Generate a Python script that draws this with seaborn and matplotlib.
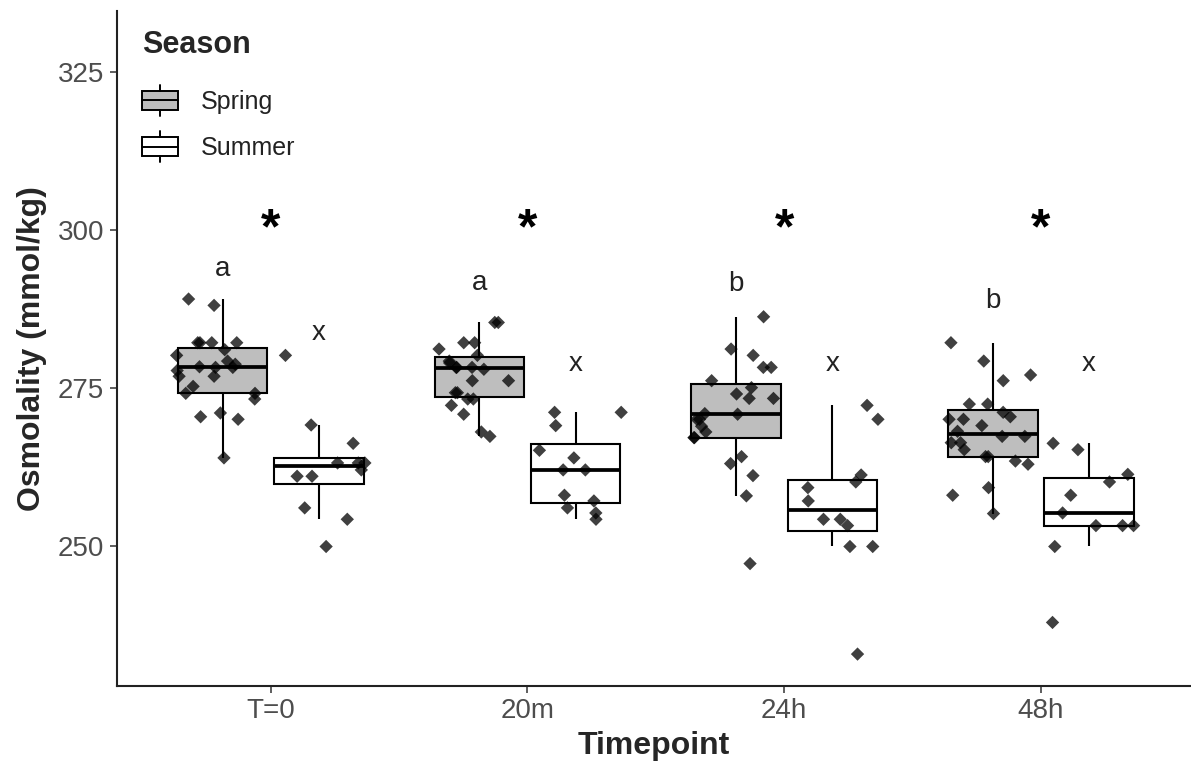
import numpy as np
import pandas as pd
import matplotlib
matplotlib.use("Agg")
import matplotlib.pyplot as plt
import seaborn as sns
from matplotlib.legend_handler import HandlerBase
from matplotlib.patches import Rectangle, Patch
from matplotlib.lines import Line2D

# ---- data ----
timepoints = ["T=0", "20m", "24h", "48h"]
seasons = ["Spring", "Summer"]

spring_t0 = [264.0, 270.1, 270.5, 271.1, 273.3, 274.2, 274.2, 275.3, 276.9, 276.9,
             277.8, 278.3, 278.3, 278.4, 278.8, 279.3, 280.2, 281.1, 282.2, 282.2,
             282.2, 282.2, 288.1, 289.1]
summer_t0 = [250.0, 254.3, 256.1, 261.1, 261.1, 262.1, 263.2, 263.2, 263.2, 266.3,
             269.2, 280.2]
spring_20m = [267.4, 268.1, 270.9, 272.3, 273.3, 273.3, 274.3, 274.3, 276.2, 276.2,
              278.0, 278.3, 278.3, 278.3, 279.0, 279.3, 280.2, 281.2, 282.2, 282.2,
              285.4, 285.4]
summer_20m = [254.3, 255.3, 256.1, 257.2, 258.1, 262.1, 262.1, 264.0, 265.2, 269.1,
              271.2, 271.2]
spring_24h = [247.3, 258.0, 261.2, 263.1, 264.2, 267.2, 267.2, 268.1, 269.0, 270.1,
              270.1, 270.9, 271.0, 273.4, 273.4, 274.1, 275.1, 276.2, 278.3, 278.3,
              280.2, 281.2, 286.3]
summer_24h = [233.0, 250.0, 250.0, 253.3, 254.3, 254.3, 257.2, 259.3, 260.2, 261.3,
              270.1, 272.3]
spring_48h = [255.2, 258.1, 259.3, 263.0, 263.5, 264.2, 264.2, 265.3, 266.4, 266.4,
              267.4, 267.4, 268.2, 269.1, 270.1, 270.1, 270.5, 271.2, 272.5, 272.5,
              276.2, 277.1, 279.3, 282.2]
summer_48h = [238.0, 250.0, 253.3, 253.3, 253.3, 255.3, 258.1, 260.2, 261.4, 265.3,
              266.3]

groups = {
    ("T=0", "Spring"): spring_t0, ("T=0", "Summer"): summer_t0,
    ("20m", "Spring"): spring_20m, ("20m", "Summer"): summer_20m,
    ("24h", "Spring"): spring_24h, ("24h", "Summer"): summer_24h,
    ("48h", "Spring"): spring_48h, ("48h", "Summer"): summer_48h,
}

# significance annotations
star_labels = ["*", "*", "*", "*"]
spring_letters = ["a", "a", "b", "b"]
spring_letter_y = [292.8, 290.6, 290.4, 287.7]
summer_letters = ["x", "x", "x", "x"]
summer_letter_y = [282.6, 277.7, 277.7, 277.7]
star_y = 297.9

rows = []
for (tp, se), vals in groups.items():
    for v in vals:
        rows.append({"Timepoint": tp, "Season": se, "Osmolality": v})
df = pd.DataFrame(rows)

# ---- style ----
sns.set_theme(style="ticks")
plt.rcParams["font.family"] = ["Liberation Sans", "DejaVu Sans"]

fig = plt.figure(figsize=(11.91, 7.71), dpi=100)
ax = fig.add_axes([0.098, 0.1106, 0.901, 0.875])

box_fill = {"Spring": "#BEBEBE", "Summer": "#FFFFFF"}
sns.boxplot(data=df, x="Timepoint", y="Osmolality", hue="Season",
            order=timepoints, hue_order=seasons, palette=box_fill, saturation=1,
            width=0.75, gap=0.07, showfliers=False, showcaps=False,
            linecolor="black", linewidth=1.5,
            medianprops=dict(linewidth=2.7), legend=False, ax=ax)

np.random.seed(3)
sns.stripplot(data=df, x="Timepoint", y="Osmolality", hue="Season",
              order=timepoints, hue_order=seasons,
              palette={"Spring": "black", "Summer": "black"},
              dodge=True, jitter=0.35, marker="D", size=6.8, alpha=0.75,
              linewidth=0, legend=False, zorder=3, ax=ax)

ax.set_xlim(-0.6, 3.58)
ax.set_ylim(228.0, 334.6)
ax.set_yticks([250, 275, 300, 325])

off = 0.1875
for i in range(len(timepoints)):
    ax.text(i, star_y, star_labels[i], ha="center", va="baseline",
            fontsize=36, fontweight="bold", color="black")
    ax.text(i - off, spring_letter_y[i], spring_letters[i], ha="center",
            va="baseline", fontsize=20, color="#222222")
    ax.text(i + off, summer_letter_y[i], summer_letters[i], ha="center",
            va="baseline", fontsize=20, color="#222222")

ax.set_xlabel("Timepoint", fontsize=23, fontweight="bold", labelpad=5)
ax.set_ylabel("Osmolality (mmol/kg)", fontsize=23, fontweight="bold", labelpad=8)
ax.tick_params(axis="both", labelsize=20, labelcolor="#4D4D4D", length=5,
               width=1.1, color="#333333", direction="out", pad=4)
for s in ["top", "right"]:
    ax.spines[s].set_visible(False)
for s in ["left", "bottom"]:
    ax.spines[s].set_linewidth(1.5)
    ax.spines[s].set_color("#222222")


class BoxHandler(HandlerBase):
    def create_artists(self, legend, orig_handle, xdescent, ydescent,
                       width, height, fontsize, trans):
        fc = orig_handle.get_facecolor()
        x0, y0 = -xdescent, -ydescent
        bh = height * 0.62
        by = y0 + (height - bh) / 2
        xm = x0 + width / 2
        rect = Rectangle((x0, by), width, bh, facecolor=fc, edgecolor="black",
                         linewidth=1.4, transform=trans)
        med = Line2D([x0, x0 + width], [y0 + height / 2] * 2, color="black",
                     linewidth=1.4, transform=trans)
        wu = Line2D([xm, xm], [by + bh, y0 + height], color="black",
                    linewidth=1.4, transform=trans)
        wl = Line2D([xm, xm], [y0, by], color="black", linewidth=1.4,
                    transform=trans)
        return [rect, med, wu, wl]


handles = [Patch(facecolor=box_fill[s], edgecolor="black") for s in seasons]
leg = ax.legend(handles, seasons, title="Season", loc="upper left",
                bbox_to_anchor=(142 / 1191, 1 - 30 / 771),
                bbox_transform=fig.transFigure, frameon=False,
                fontsize=18, title_fontproperties={"weight": "bold", "size": 22},
                handler_map={Patch: BoxHandler()}, handlelength=1.45,
                handleheight=1.55, labelspacing=0.6, handletextpad=0.9,
                borderpad=0, borderaxespad=0, alignment="left")
leg._legend_box.sep = 0.6 * 18 + 7
for t in leg.get_texts():
    t.set_color("#222222")

fig.savefig("out.png", dpi=100)
